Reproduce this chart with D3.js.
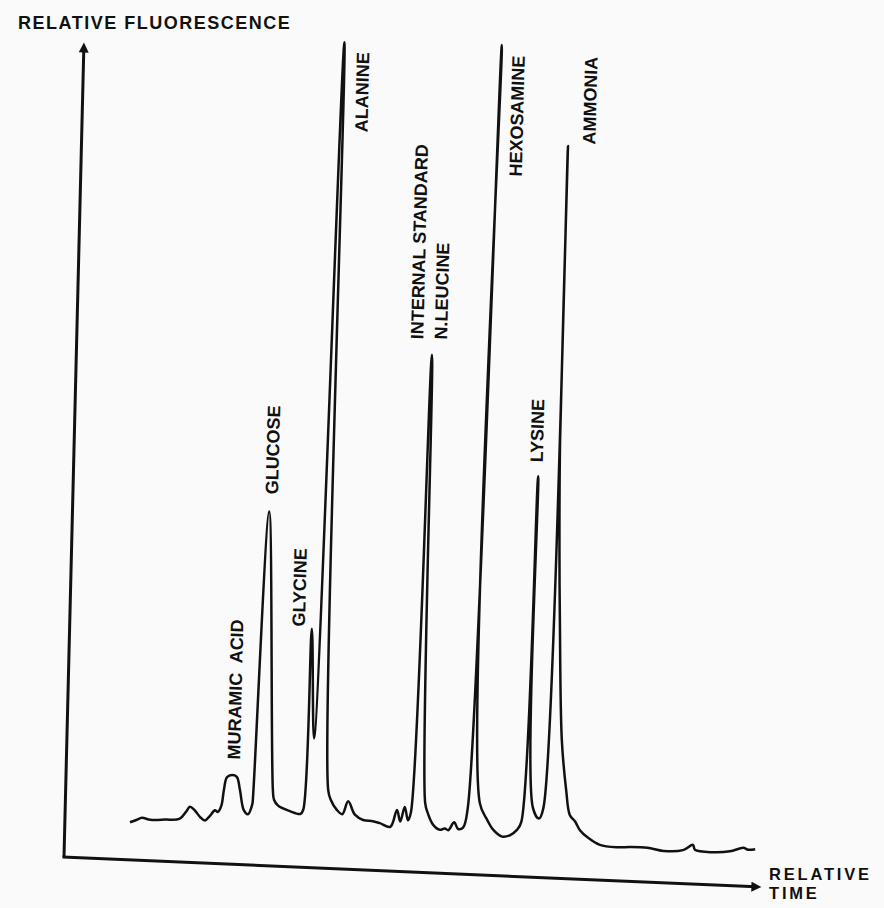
<!DOCTYPE html>
<meta charset="utf-8">
<style>
  body { margin: 0; background: #fafafa; }
  svg { display: block; font-family: "Liberation Sans", Arial, sans-serif; }
</style>
<svg width="884" height="908"></svg>
<script src="https://d3js.org/d3.v7.min.js"></script>
<script>

// recorder trace (relative units, 0-100 on both axes)
var time = [
  9.3, 10.2, 11.0, 12.2, 14.3, 16.4, 17.3, 17.8, 18.5, 19.3,
  20.0, 20.7, 21.4, 21.8, 22.3, 22.6, 23.0, 23.7, 24.4, 24.9,
  25.5, 26.1, 26.7, 26.8, 28.1, 29.6, 29.8, 30.4, 32.1, 33.6,
  34.0, 34.6, 35.3, 37.2, 37.5, 37.9, 38.8, 39.6, 40.4, 41.4,
  42.6, 44.0, 45.0, 46.5, 47.4, 47.9, 48.5, 49.0, 49.4, 50.8,
  51.4, 51.8, 52.6, 53.6, 54.3, 54.8, 55.6, 56.2, 56.9, 57.5,
  59.7, 59.2, 60.3, 61.2, 62.5, 63.6, 64.6, 65.2, 66.4, 66.8,
  67.7, 68.3, 69.5, 69.4, 69.7, 70.0, 70.7, 71.5, 72.1,
  72.9, 73.6, 74.8, 76.5, 79.0, 80.8, 83.3, 85.6, 88.4, 89.8,
  90.1, 92.7, 95.1, 97.0, 97.7, 98.7
];
var fluorescence = [
  4.6, 4.9, 5.2, 5.0, 5.1, 5.3, 6.2, 6.8, 6.4, 5.6,
  5.2, 5.8, 6.5, 6.3, 7.1, 9.0, 10.6, 10.9, 10.7, 9.1,
  6.7, 6.2, 7.4, 8.6, 43.3, 9.3, 8.1, 7.4, 6.8, 6.5,
  7.0, 29.2, 15.8, 101.0, 9.6, 8.4, 7.2, 6.7, 8.3, 6.7,
  6.1, 6.0, 5.8, 5.4, 7.5, 6.1, 7.9, 6.3, 7.3, 63.3,
  8.5, 7.3, 5.9, 5.3, 5.5, 5.3, 6.3, 5.5, 5.7, 8.1,
  101.5, 8.8, 6.8, 5.6, 4.8, 5.0, 5.7, 6.7, 49.0, 8.5,
  7.2, 8.5, 89.5, 53.6, 40.0, 31.6, 16.9, 10.8, 7.8,
  7.0, 6.0, 5.1, 4.3, 4.1, 4.2, 4.2, 3.9, 4.1, 4.8,
  4.2, 4.0, 4.2, 4.7, 4.5, 4.6
];

// peak labels: name and the point where each label starts
var peakNames = ["MURAMIC  ACID", "GLUCOSE", "GLYCINE", "ALANINE",
                 "INTERNAL STANDARD", "N.LEUCINE", "HEXOSAMINE", "LYSINE", "AMMONIA"];
var peakTime  = [24.8, 29.3, 33.6, 40.8, 49.5, 52.9, 63.0, 67.0, 73.4];
var peakLevel = [12.8, 45.4, 29.4, 90.1, 65.1, 65.2, 85.5, 50.7, 89.8];

var svg = d3.select("svg");

var x = d3.scaleLinear().domain([0, 100]).range([0, 700]),
    y = d3.scaleLinear().domain([0, 100]).range([0, -818]);

svg.append("rect").attr("width", 884).attr("height", 908).attr("fill", "#fafafa");

svg.append("defs").append("marker")
    .attr("id", "arrow")
    .attr("viewBox", "0 0 10 10")
    .attr("refX", 5)
    .attr("refY", 5)
    .attr("markerWidth", 13)
    .attr("markerHeight", 10)
    .attr("markerUnits", "userSpaceOnUse")
    .attr("orient", "auto")
  .append("path")
    .attr("d", "M0,0L10,5L0,10z")
    .attr("fill", "#111");

// the chart paper was photographed a little askew
var g = svg.append("g")
    .attr("transform", "matrix(0.99907,0.0431,-0.0245,0.9997,64,857)");

g.append("line")
    .attr("x1", x(0)).attr("y1", y(0))
    .attr("x2", x(0)).attr("y2", y(99))
    .attr("stroke", "#111").attr("stroke-width", 3)
    .attr("marker-end", "url(#arrow)");

g.append("line")
    .attr("x1", x(0) - 1.5).attr("y1", y(0))
    .attr("x2", x(99)).attr("y2", y(0))
    .attr("stroke", "#111").attr("stroke-width", 3)
    .attr("marker-end", "url(#arrow)");

var line = d3.line()
    .x(function(d, i) { return x(time[i]); })
    .y(function(d, i) { return y(fluorescence[i]); })
    .curve(d3.curveCatmullRom.alpha(0.5));

g.append("path")
    .datum(time)
    .attr("d", line)
    .attr("fill", "none")
    .attr("stroke", "#111")
    .attr("stroke-width", 2.5)
    .attr("stroke-linejoin", "round");

g.selectAll("text.peak")
    .data(peakNames)
  .enter().append("text")
    .attr("class", "peak")
    .attr("transform", function(d, i) {
      return "translate(" + x(peakTime[i]) + "," + y(peakLevel[i]) + ") rotate(-90)";
    })
    .attr("font-size", 18)
    .attr("font-weight", "bold")
    .attr("fill", "#111")
    .style("white-space", "pre")
    .text(function(d) { return d; });

svg.append("text")
    .attr("x", 18).attr("y", 29)
    .attr("font-size", 18)
    .attr("font-weight", "bold")
    .attr("letter-spacing", 1.5)
    .attr("fill", "#111")
    .text("RELATIVE FLUORESCENCE");

svg.selectAll("text.xtitle")
    .data(["RELATIVE", "TIME"])
  .enter().append("text")
    .attr("class", "xtitle")
    .attr("x", 769)
    .attr("y", function(d, i) { return 880 + i * 19; })
    .attr("font-size", 16.5)
    .attr("font-weight", "bold")
    .attr("letter-spacing", 2.8)
    .attr("fill", "#111")
    .text(function(d) { return d; });

</script>
